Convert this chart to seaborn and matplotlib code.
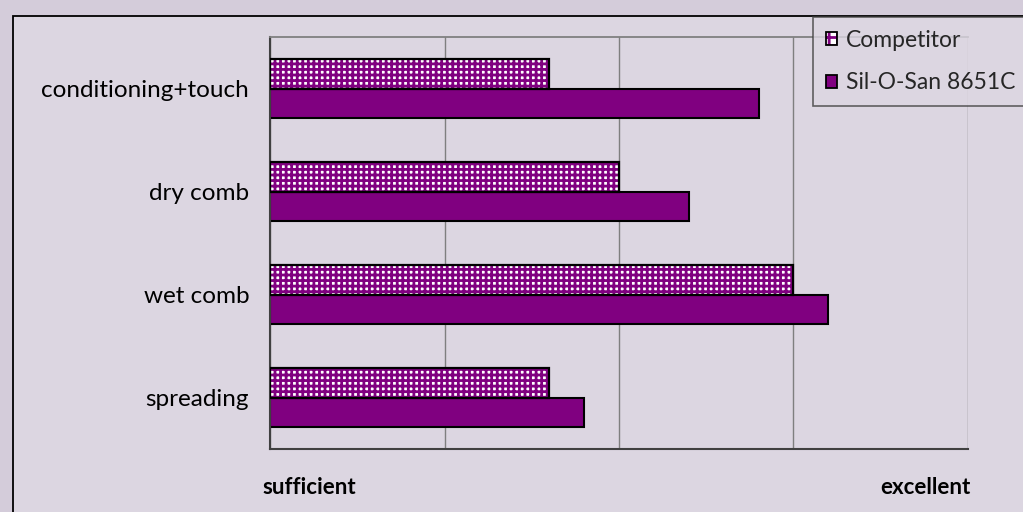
import matplotlib
matplotlib.use("Agg")
import matplotlib.pyplot as plt
import seaborn as sns
import pandas as pd
from matplotlib.patches import Patch, Rectangle
from matplotlib.ticker import FixedLocator

categories = ["conditioning+touch", "dry comb", "wet comb", "spreading"]
competitor = [1.6, 2.0, 3.0, 1.6]
silosan = [2.8, 2.4, 3.2, 1.8]
series_names = ["Competitor", "Sil-O-San 8651C"]
x_ticks = [0, 1, 2, 3, 4]
x_tick_labels = ["sufficient", "", "", "", "excellent"]

PURPLE = "#800080"
BG_OUT = "#d4ccda"
BG_IN = "#dcd6e1"

sns.set_theme(style="white")
plt.rcParams["font.family"] = ["Lato", "DejaVu Sans"]
plt.rcParams["hatch.linewidth"] = 2.0

df = pd.DataFrame({
    "category": categories * 2,
    "value": competitor + silosan,
    "series": [series_names[0]] * len(categories) + [series_names[1]] * len(categories),
})

fig = plt.figure(figsize=(10.23, 5.12), dpi=100, facecolor=BG_OUT)
fig.add_artist(Rectangle((13 / 1023, -0.2), 1.2, 1.2 - 16 / 512,
                         transform=fig.transFigure, facecolor=BG_IN,
                         edgecolor="black", linewidth=1.3, zorder=-5))
ax = fig.add_axes([270 / 1023, 1 - 449 / 512, (968 - 270) / 1023, (449 - 37) / 512])
ax.set_facecolor("none")

sns.barplot(data=df, y="category", x="value", hue="series", order=categories,
            hue_order=series_names, orient="h", width=0.565, ax=ax,
            palette=[PURPLE, PURPLE], edgecolor="black", linewidth=1.5,
            legend=False, saturation=1)

n = len(categories)
for bar in ax.patches[:n]:
    bar.set_facecolor("white")
    bar.set_edgecolor(PURPLE)
    bar.set_hatch("+++")
    bar.set_linewidth(0)
    ax.add_patch(Rectangle((bar.get_x(), bar.get_y()), bar.get_width(), bar.get_height(),
                           facecolor="none", edgecolor="black", linewidth=1.6, zorder=3))
for bar in ax.patches[n:2 * n]:
    bar.set_zorder(2)

ax.set_xlim(0, 4)
ax.set_ylim(len(categories) - 0.5, -0.5)
ax.set_xticks(x_ticks)
ax.set_xticklabels([""] * len(x_ticks))
ax.tick_params(axis="x", direction="out", length=7, width=1, color="#404040")
ax.xaxis.grid(True, color="#7f7f7f", linewidth=1)
ax.set_axisbelow(True)
# end labels of the value axis, aligned to the first / last tick
ax.annotate(x_tick_labels[0], xy=(x_ticks[0], 0), xycoords=("data", "axes fraction"),
            xytext=(-8, -39), textcoords="offset pixels", ha="left", va="center",
            fontsize=16, fontweight="bold", color="black", annotation_clip=False)
ax.annotate(x_tick_labels[-1], xy=(x_ticks[-1], 0), xycoords=("data", "axes fraction"),
            xytext=(3, -39), textcoords="offset pixels", ha="right", va="center",
            fontsize=16, fontweight="bold", color="black", annotation_clip=False)

ax.yaxis.set_major_locator(FixedLocator([i - 0.5 for i in range(len(categories) + 1)]))
ax.yaxis.set_minor_locator(FixedLocator(list(range(len(categories)))))
ax.set_yticklabels([], minor=False)
ax.set_yticklabels(categories, minor=True, fontsize=17.5, color="black")
ax.tick_params(axis="y", which="major", direction="out", length=7, width=1, color="#404040")
ax.tick_params(axis="y", which="minor", length=0, pad=15)

ax.set_xlabel("")
ax.set_ylabel("")
for side in ["left", "bottom"]:
    ax.spines[side].set_color("#404040")
    ax.spines[side].set_linewidth(1.5)
ax.spines["right"].set_visible(False)
ax.spines["top"].set_color("#808080")
ax.spines["top"].set_linewidth(1.3)

h_comp = (Patch(facecolor="white", edgecolor=PURPLE, hatch="++", linewidth=0),
          Patch(facecolor="none", edgecolor="black", linewidth=1.3))
h_sil = Patch(facecolor=PURPLE, edgecolor="black", linewidth=1.3)
leg = fig.legend([h_comp, h_sil], series_names, loc="upper left",
                 bbox_to_anchor=(813 / 1023, 1 - 17 / 512), fontsize=16.5,
                 frameon=True, fancybox=False, facecolor=BG_IN, edgecolor="#404040",
                 handlelength=0.5, handleheight=0.5, handletextpad=0.4,
                 labelspacing=0.95, borderpad=0.55, borderaxespad=0)
leg.get_frame().set_linewidth(1.2)

fig.savefig("out.png", dpi=100, facecolor=BG_OUT)
